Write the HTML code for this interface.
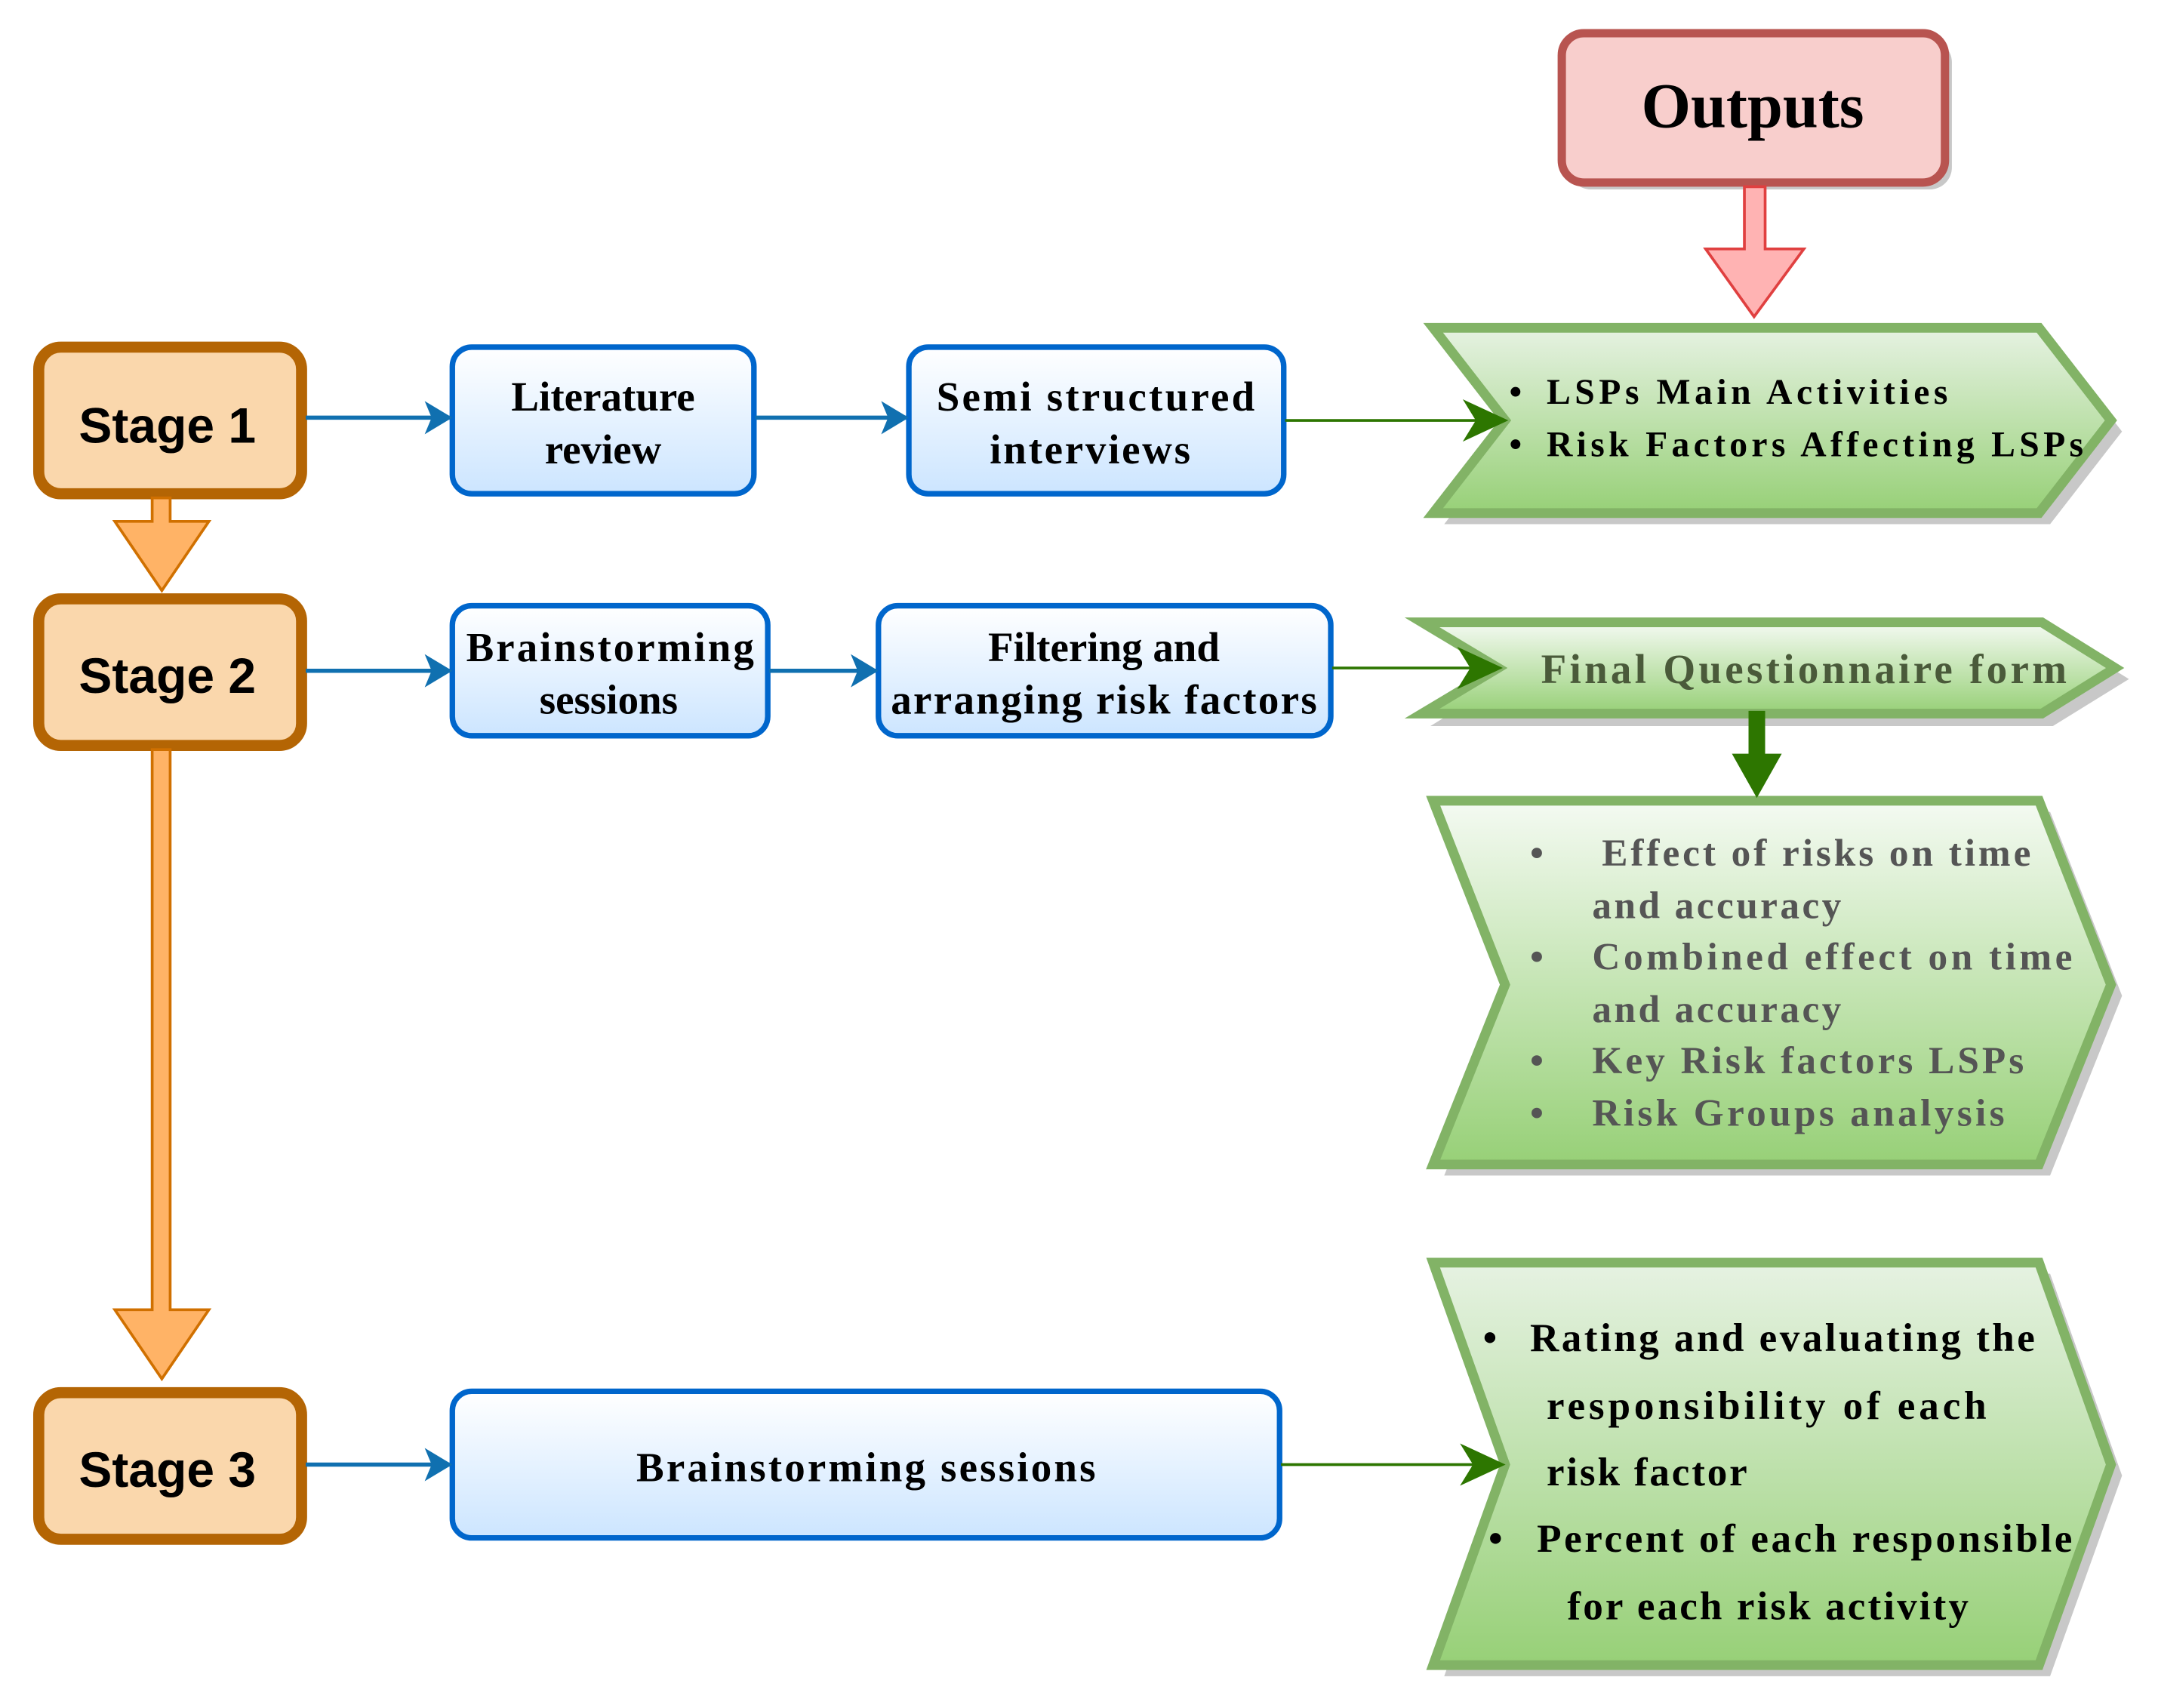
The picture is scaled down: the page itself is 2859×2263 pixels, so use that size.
<!DOCTYPE html>
<html><head><meta charset="utf-8"><style>
html,body{margin:0;padding:0;background:#fff;}
svg{display:block;}
.st{font-family:"Liberation Sans",sans-serif;font-weight:bold;font-size:36px;fill:#000;}
.sr{font-family:"Liberation Serif",serif;font-weight:bold;}
</style></head><body>
<svg width="2859" height="2263" viewBox="0 0 1560 1235" preserveAspectRatio="none" xmlns="http://www.w3.org/2000/svg">
<defs>
<linearGradient id="bl" x1="0" y1="0" x2="0" y2="1"><stop offset="0" stop-color="#ffffff"/><stop offset="1" stop-color="#cce5ff"/></linearGradient>
<linearGradient id="gr" x1="0" y1="0" x2="0" y2="1"><stop offset="0" stop-color="#e6f2e2"/><stop offset="1" stop-color="#97d077"/></linearGradient>
<linearGradient id="gr2" x1="0" y1="0" x2="0" y2="1"><stop offset="0" stop-color="#f4faf2"/><stop offset="1" stop-color="#97d077"/></linearGradient>
<marker id="ab" markerWidth="20" markerHeight="24" refX="18" refY="12" orient="auto" markerUnits="userSpaceOnUse"><path d="M0,0 L20,12 L0,24 L5,12z" fill="#1070b0"/></marker>
</defs>
<g transform="translate(-4,-3)">
<!-- Stage boxes -->
<g fill="#fad7ac" stroke="#b46504" stroke-width="8">
<rect x="32" y="254" width="190" height="106" rx="16"/>
<rect x="32" y="436" width="190" height="106" rx="16"/>
<rect x="32" y="1010" width="190" height="106" rx="16"/>
</g>
<text class="st" x="125" y="323" text-anchor="middle">Stage 1</text>
<text class="st" x="125" y="504" text-anchor="middle">Stage 2</text>
<text class="st" x="125" y="1078" text-anchor="middle">Stage 3</text>
<!-- orange arrows -->
<path d="M114,363 L127,363 L127,380 L155,380 L121,430 L87,380 L114,380z" fill="#ffb366" stroke="#d07000" stroke-width="2"/>
<path d="M114,545 L127,545 L127,950 L155,950 L121,1000 L87,950 L114,950z" fill="#ffb366" stroke="#d07000" stroke-width="2"/>
<!-- Outputs -->
<rect x="1138" y="32" width="277" height="108" rx="16" fill="#c8c8c8"/>
<rect x="1133" y="27" width="277" height="108" rx="16" fill="#f8cecc" stroke="#b85450" stroke-width="6"/>
<text class="sr" x="1271" y="95" text-anchor="middle" font-size="46">Outputs</text>
<path d="M1265,138 L1280,138 L1280,183 L1308,183 L1272,232 L1237,183 L1265,183z" fill="#ffb3b3" stroke="#e04040" stroke-width="2"/>
<!-- blue boxes -->
<g fill="url(#bl)" stroke="#0066cc" stroke-width="4">
<rect x="331" y="254" width="218" height="106" rx="14"/>
<rect x="661" y="254" width="271" height="106" rx="14"/>
<rect x="331" y="441" width="228" height="94" rx="14"/>
<rect x="639" y="441" width="327" height="94" rx="14"/>
<rect x="331" y="1009" width="598" height="106" rx="14"/>
</g>
<g class="sr" font-size="30" text-anchor="middle">
<text x="440" y="300">Literature</text><text x="440" y="338">review</text>
<text x="796" y="300" textLength="230">Semi structured</text><text x="792" y="338" textLength="145">interviews</text>
<text x="445" y="481" textLength="208">Brainstorming</text><text x="444" y="519">sessions</text>
<text x="802" y="481">Filtering and</text><text x="802" y="519" textLength="308">arranging risk factors</text>
<text x="630" y="1074" textLength="332">Brainstorming sessions</text>
</g>
<!-- blue connectors -->
<g stroke="#1070b0" stroke-width="3" marker-end="url(#ab)">
<line x1="225" y1="305" x2="329" y2="305"/>
<line x1="550" y1="305" x2="659" y2="305"/>
<line x1="225" y1="488" x2="329" y2="488"/>
<line x1="560" y1="488" x2="637" y2="488"/>
<line x1="225" y1="1062" x2="329" y2="1062"/>
</g>
<!-- chevrons shadows -->
<g fill="#c8c8c8">
<path d="M1048,248 L1486,248 L1538,315 L1486,382 L1048,382 L1100,315z"/>
<path d="M1038,460 L1488,460 L1543,494 L1488,528 L1038,528 L1093,494z"/>
<path d="M1048,590 L1486,590 L1538,723 L1486,853 L1048,853 L1100,723z"/>
<path d="M1048,924 L1486,924 L1538,1070 L1486,1215 L1048,1215 L1100,1070z"/>
</g>
<g stroke="#82b366" stroke-width="7">
<path d="M1040,240 L1478,240 L1530,307 L1478,374 L1040,374 L1092,307z" fill="url(#gr)"/>
<path d="M1032,453 L1480,453 L1533,486 L1480,519 L1032,519 L1087,486z" fill="url(#gr2)"/>
<path d="M1040,582 L1478,582 L1530,715 L1478,845 L1040,845 L1092,715z" fill="url(#gr2)"/>
<path d="M1040,916 L1478,916 L1530,1062 L1478,1207 L1040,1207 L1092,1062z" fill="url(#gr)"/>
</g>
<!-- green connectors -->
<g stroke="#2d7600" stroke-width="2" fill="#2d7600">
<line x1="933" y1="307" x2="1085" y2="307"/><path d="M1064,294 L1092,307 L1064,320 L1072,307z"/>
<line x1="967" y1="486" x2="1080" y2="486"/><path d="M1060,473 L1088,486 L1060,499 L1068,486z"/>
<line x1="930" y1="1062" x2="1083" y2="1062"/><path d="M1062,1049 L1090,1062 L1062,1075 L1070,1062z"/>
</g>
<path d="M1268,517 L1280,517 L1280,548 L1292,548 L1274,580 L1256,548 L1268,548z" fill="#2d7600"/>
<!-- chevron texts -->
<g class="sr" font-size="26" fill="#000">
<text x="1095" y="295">•</text><text x="1122" y="295" textLength="290">LSPs Main Activities</text>
<text x="1095" y="333">•</text><text x="1122" y="333" textLength="388">Risk Factors Affecting LSPs</text>
</g>
<text class="sr" x="1118" y="497" font-size="30" fill="#4a5a3a" textLength="380">Final Questionnaire form</text>
<g class="sr" font-size="28" fill="#555">
<text x="1110" y="629">•</text><text x="1162" y="629" textLength="310">Effect of risks on time</text>
<text x="1155" y="667" textLength="180">and accuracy</text>
<text x="1110" y="704">•</text><text x="1155" y="704" textLength="347">Combined effect on time</text>
<text x="1155" y="742" textLength="180">and accuracy</text>
<text x="1110" y="779">•</text><text x="1155" y="779" textLength="312">Key Risk factors LSPs</text>
<text x="1110" y="817">•</text><text x="1155" y="817" textLength="298">Risk Groups analysis</text>
</g>
<g class="sr" font-size="29" fill="#000">
<text x="1076" y="980">•</text><text x="1110" y="980" textLength="365">Rating and evaluating the</text>
<text x="1122" y="1029" textLength="318">responsibility  of  each</text>
<text x="1122" y="1077" textLength="145">risk factor</text>
<text x="1080" y="1125">•</text><text x="1115" y="1125" textLength="387">Percent of each responsible</text>
<text x="1137" y="1174" textLength="290">for each risk activity</text>
</g>
</g>
</svg>
</body></html>
